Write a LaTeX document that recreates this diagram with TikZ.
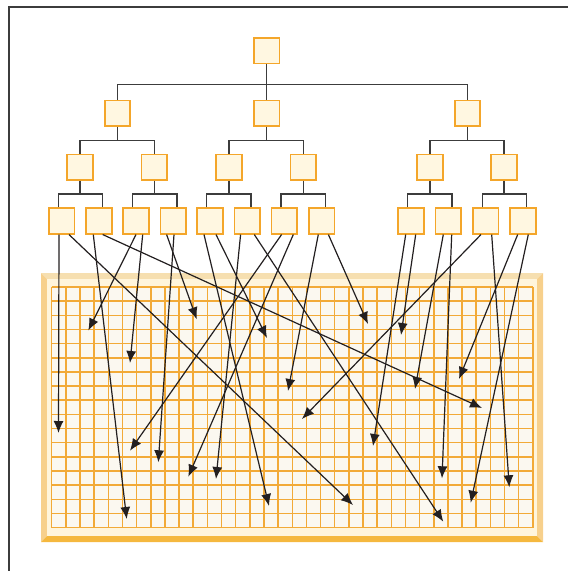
\documentclass[tikz,border=0pt]{standalone}
\usepackage{xcolor}
\usepackage{tikz}
\usetikzlibrary{calc, arrows.meta}
\definecolor{boxedge}{HTML}{F4A62A}
\definecolor{boxfill}{HTML}{FFF7E1}
\definecolor{gridline}{HTML}{F2AA38}
\definecolor{gridbg}{HTML}{FBF8F0}
\definecolor{panel}{HTML}{FFF5DC}
\definecolor{bevlight}{HTML}{F6DFB0}
\definecolor{bevside}{HTML}{F7D08C}
\definecolor{bevdark}{HTML}{F5B83E}
\definecolor{wire}{HTML}{3C3C3C}
\definecolor{ink}{HTML}{231F20}
\tikzset{
    cell/.style={draw=boxedge, fill=boxfill, line width=1.6pt, minimum size=25.5pt, inner sep=0pt},
    tree/.style={wire, line width=1.4pt},
    arr/.style={ink, line width=1.2pt, -{Latex[length=12pt, width=10pt]}}
}
\begin{document}
\begin{tikzpicture}[x=1pt, y=-1pt]
    \useasboundingbox (0,0) rectangle (568,571);
    \draw[wire, line width=1.2pt] (9,571) -- (9,7) -- (568,7);
    % panel
    \fill[bevlight] (41,273) -- (543,273) -- (537,279) -- (47,279) -- cycle;
    \fill[bevside] (41,273) -- (47,279) -- (47,536) -- (41,542) -- cycle;
    \fill[bevside] (543,273) -- (537,279) -- (537,536) -- (543,542) -- cycle;
    \fill[bevdark] (41,542) -- (47,536) -- (537,536) -- (543,542) -- cycle;
    \fill[panel] (47,279) rectangle (537,536);
    \fill[gridbg] (51.7,287) rectangle (532.8,527.6);
    \foreach \i in {0,...,34}
        \draw[gridline, line width=1.5pt] (51.7+\i*14.15,287) -- ++(0,240.6);
    \foreach \j in {0,...,17}
        \draw[gridline, line width=1.5pt] (51.7,287+\j*14.15) -- ++(481.1,0);
    % tree
    \node[cell] (root) at (266.7,50.7) {};
    \foreach \n/\x in {a1/117.5, a2/266.7, a3/467.5}
        \node[cell] (\n) at (\x,113.3) {};
    \foreach \n/\x in {b1/80, b2/154.3, b3/229, b4/303.3, b5/430, b6/504}
        \node[cell] (\n) at (\x,167.3) {};
    \foreach \n/\x in {c1/61.7, c2/99, c3/136, c4/173.3, c5/210, c6/247.3, c7/284.3, c8/321.7, c9/411, c10/448.3, c11/485.7, c12/523}
        \node[cell] (\n) at (\x,221) {};
    \draw[tree] (root.south) -- ++(0,20) coordinate (m);
    \draw[tree] (a1.north) |- (m) -| (a3.north);
    \draw[tree] (m) -- (a2.north);
    \foreach \p/\l/\r in {a1/b1/b2, a2/b3/b4, a3/b5/b6} {
        \draw[tree] (\p.south) -- ++(0,13.5) coordinate (m);
        \draw[tree] (\l.north) |- (m) -| (\r.north);
    }
    \foreach \p/\l/\r in {b1/c1/c2, b2/c3/c4, b3/c5/c6, b4/c7/c8, b5/c9/c10, b6/c11/c12} {
        \draw[tree] (\p.south) -- ++(0,13) coordinate (m);
        \draw[tree] ([xshift=-3.5pt]\l.north) |- (m) -| ([xshift=3.5pt]\r.north);
    }
    % arrows
    \foreach \n/\x/\y in {1/58.5/433, 2/353/505, 3/126.7/519, 4/482/408, 5/88.3/330.5, 6/130/363,
        7/196.7/319.3, 8/158.3/462.3, 9/269/506, 10/267/338, 11/216/479, 12/443.3/521.7,
        13/130/450.7, 14/188.3/476.7, 15/288/391, 16/368/324, 17/373/446, 18/401/335,
        19/415/389, 20/442/478.3, 21/302/419, 22/509.3/487.3, 23/459/379, 24/470.7/502.7}
        \coordinate (t\n) at (\x,\y);
    \foreach \s/\d/\t in {c1/-2.7/1, c1/7.3/2, c2/-5.7/3, c2/3.7/4, c3/0/5, c3/6.7/6,
        c4/-6.7/7, c4/0.7/8, c5/-6/9, c5/6/10, c6/-6.7/11, c6/7/12,
        c7/-2.7/13, c7/9/14, c8/-3.4/15, c8/6.7/16, c9/-5.3/17, c9/4.7/18,
        c10/-5/19, c10/3.4/20, c11/-4.7/21, c11/6/22, c12/-5.3/23, c12/5.3/24}
        \draw[arr] ([xshift=\d pt]\s.south) -- (t\t);
\end{tikzpicture}
\end{document}
